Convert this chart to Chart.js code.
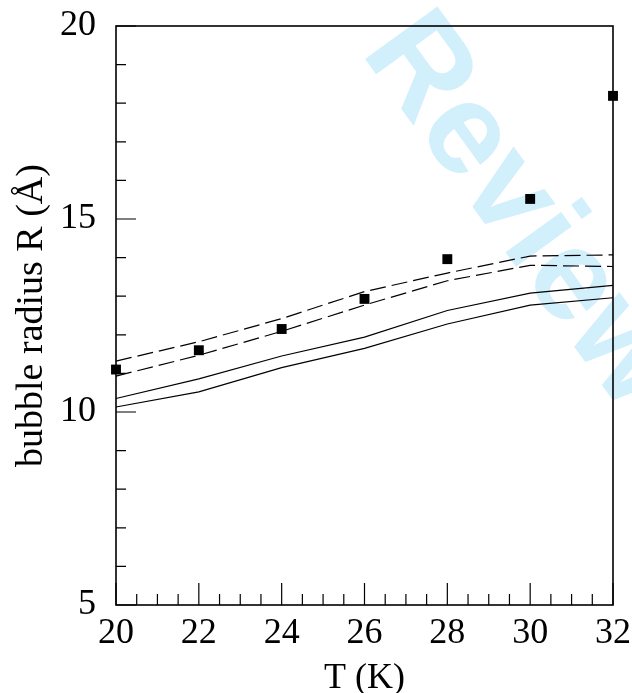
<!DOCTYPE html>
<html>
<head>
<meta charset="utf-8">
<script src="https://cdn.jsdelivr.net/npm/chart.js@4"></script>
<style>
  html, body { margin: 0; padding: 0; background: #fff; }
  #wrap { width: 632px; height: 693px; }
</style>
</head>
<body>
<div id="wrap"><canvas id="myChart" width="632" height="693"></canvas></div>
<script>
// temperatures (K)
var temps = [20, 22, 24, 26, 28, 30, 32];
// measured bubble radius (squares)
var measured = [11.1, 11.6, 12.15, 12.93, 13.96, 15.52, 18.19];
// model curves
var dashedUpper = [11.32, 11.82, 12.42, 13.12, 13.60, 14.04, 14.07];
var dashedLower = [10.93, 11.47, 12.09, 12.77, 13.40, 13.80, 13.77];
var solidUpper = [10.35, 10.86, 11.45, 11.94, 12.63, 13.08, 13.28];
var solidLower = [10.13, 10.52, 11.15, 11.65, 12.28, 12.77, 12.96];
// tick labels
var xTicks = [20, 22, 24, 26, 28, 30, 32];
var yTicks = [5, 10, 15, 20];

function pts(ys) {
  return temps.map(function (t, i) { return { x: t, y: ys[i] }; });
}

var serif = 'Liberation Serif';

// watermark behind everything
var watermark = {
  id: 'watermark',
  beforeDatasetsDraw: function (chart) {
    var ctx = chart.ctx;
    ctx.save();
    ctx.translate(360, 52);
    ctx.rotate(54 * Math.PI / 180);
    ctx.fillStyle = 'rgb(210,239,252)';
    ctx.font = 'bold 130px "Liberation Sans"';
    ctx.textBaseline = 'alphabetic';
    ctx.fillText('Review', 0, 0);
    ctx.restore();
  }
};

// frame and inward ticks
var frame = {
  id: 'frame',
  afterDatasetsDraw: function (chart) {
    var ctx = chart.ctx;
    var a = chart.chartArea;
    var xs = chart.scales.x, ys = chart.scales.y;
    ctx.save();
    ctx.strokeStyle = '#000';
    ctx.lineWidth = 1.2;
    ctx.beginPath();
    for (var t = 20; t <= 32.001; t += 0.5) {
      var px = xs.getPixelForValue(t);
      var len = (Math.abs(t % 2) < 0.001) ? 22 : 11;
      ctx.moveTo(px, a.bottom);
      ctx.lineTo(px, a.bottom - len);
    }
    for (var v = 5; v <= 20.001; v += 1) {
      var py = ys.getPixelForValue(v);
      var l2 = (v % 5 === 0) ? 20 : 10;
      ctx.moveTo(a.left, py);
      ctx.lineTo(a.left + l2, py);
    }
    ctx.stroke();
    ctx.lineWidth = 1.6;
    ctx.strokeRect(a.left, a.top, a.right - a.left, a.bottom - a.top);
    ctx.restore();
  }
};

var ctx = document.getElementById('myChart').getContext('2d');
var myChart = new Chart(ctx, {
  type: 'scatter',
  data: {
    datasets: [
      { data: pts(measured), showLine: false, pointStyle: 'rect', pointRadius: 7,
        backgroundColor: '#000', borderColor: '#000', borderWidth: 0 },
      { data: pts(dashedUpper), showLine: true, pointRadius: 0, borderColor: '#000',
        borderWidth: 1.2, borderDash: [16, 6] },
      { data: pts(dashedLower), showLine: true, pointRadius: 0, borderColor: '#000',
        borderWidth: 1.2, borderDash: [16, 6] },
      { data: pts(solidUpper), showLine: true, pointRadius: 0, borderColor: '#000',
        borderWidth: 1.2 },
      { data: pts(solidLower), showLine: true, pointRadius: 0, borderColor: '#000',
        borderWidth: 1.2 }
    ]
  },
  options: {
    responsive: false,
    animation: false,
    clip: false,
    layout: { padding: { top: 26, right: 19, left: 0, bottom: 0 } },
    plugins: {
      legend: { display: false },
      tooltip: { enabled: false }
    },
    scales: {
      x: {
        type: 'linear', min: 20, max: 32,
        afterFit: function (s) { s.height = 88; s.paddingLeft = 0; s.paddingRight = 0; },
        afterBuildTicks: function (s) { s.ticks = xTicks.map(function (v) { return { value: v }; }); },
        grid: { display: false, drawTicks: false },
        border: { display: false },
        ticks: { color: '#000', padding: 7, maxRotation: 0, font: { family: serif, size: 36 } },
        title: { display: true, text: 'T (K)', color: '#000', padding: 0,
          font: { family: serif, size: 36, lineHeight: 0.8 } }
      },
      y: {
        type: 'linear', min: 5, max: 20,
        afterFit: function (s) { s.width = 116; s.paddingTop = 0; s.paddingBottom = 0; },
        afterBuildTicks: function (s) { s.ticks = yTicks.map(function (v) { return { value: v }; }); },
        grid: { display: false, drawTicks: false },
        border: { display: false },
        ticks: { color: '#000', padding: 20, font: { family: serif, size: 36 } },
        title: { display: true, text: 'bubble radius R (Å)', color: '#000', padding: { top: 13 },
          font: { family: serif, size: 38, lineHeight: 1 } }
      }
    }
  },
  plugins: [watermark, frame]
});
</script>
</body>
</html>
